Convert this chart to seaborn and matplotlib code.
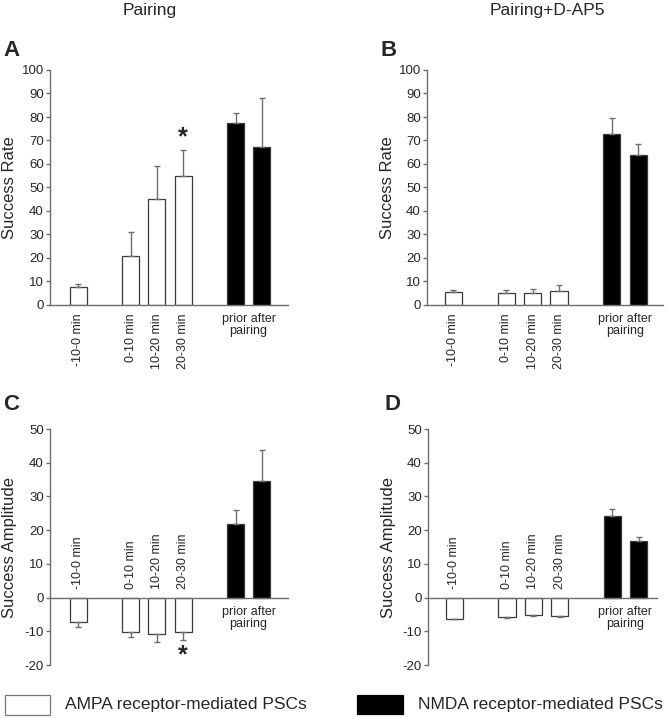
import matplotlib
matplotlib.use("Agg")
import matplotlib.pyplot as plt
from matplotlib.patches import Rectangle
import seaborn as sns
import pandas as pd
import numpy as np

# ---------------- data ----------------
categories = ['-10-0 min', '0-10 min', '10-20 min', '20-30 min', 'prior', 'after']
receptor = ['AMPA', 'AMPA', 'AMPA', 'AMPA', 'NMDA', 'NMDA']
group_label = 'prior after\npairing'

rate_pairing = [7.8, 21.0, 45.1, 55.0, 77.6, 67.4]
rate_pairing_err = [1.0, 10.2, 14.2, 11.0, 4.1, 20.5]

rate_dap5 = [5.7, 5.1, 5.1, 6.0, 72.8, 63.7]
rate_dap5_err = [0.8, 1.4, 1.9, 2.3, 6.6, 4.6]

amp_pairing = [-7.1, -10.2, -10.9, -10.2, 21.7, 34.6]
amp_pairing_err = [1.5, 1.5, 2.4, 2.3, 4.4, 9.2]

amp_dap5 = [-6.3, -5.7, -5.1, -5.4, 24.2, 16.7]
amp_dap5_err = [0.2, 0.4, 0.3, 0.4, 2.1, 1.3]

rate_ticks = [0, 10, 20, 30, 40, 50, 60, 70, 80, 90, 100]
amp_ticks = [-20, -10, 0, 10, 20, 30, 40, 50]

legend_labels = ['AMPA receptor-mediated PSCs', 'NMDA receptor-mediated PSCs']
column_titles = ['Pairing', 'Pairing+D-AP5']
panel_letters = ['A', 'B', 'C', 'D']

# ---------------- layout / style ----------------
slot = [0, 2, 3, 4, 6, 7]          # bar slots along the x axis
W, H = 670, 719
sns.set_style('ticks')
plt.rcParams['font.family'] = ['Liberation Sans', 'DejaVu Sans']
GRAY = '#6e6e6e'
EDGE = '#3a3a3a'
palette = {'AMPA': 'white', 'NMDA': 'black'}

fig = plt.figure(figsize=(W / 100, H / 100), dpi=100)


def rect(left, right, top, bottom):
    return [left / W, 1 - bottom / H, (right - left) / W, (bottom - top) / H]


def draw(ax, vals, errs, ylim, yticks, ylabel, xlim, below):
    df = pd.DataFrame({'slot': slot, 'value': vals, 'receptor': receptor})
    sns.barplot(data=df, x='slot', y='value', hue='receptor', palette=palette,
                native_scale=True, width=0.65, errorbar=None, legend=False,
                edgecolor=EDGE, linewidth=0.9, ax=ax)
    v = np.array(vals)
    e = np.array(errs)
    lower = np.where(v < 0, e, 0)
    upper = np.where(v >= 0, e, 0)
    ax.errorbar(slot, v, yerr=[lower, upper], fmt='none', ecolor=GRAY,
                elinewidth=1.0, capsize=2.2, capthick=1.0, zorder=3)
    ax.set_xlim(*xlim)
    ax.set_ylim(*ylim)
    ax.set_yticks(yticks)
    ax.set_yticklabels([str(t) for t in yticks], fontsize=9.5)
    ax.set_ylabel(ylabel, fontsize=12)
    ax.set_xlabel('')
    for s in ['top', 'right']:
        ax.spines[s].set_visible(False)
    for s in ['left', 'bottom']:
        ax.spines[s].set_color(GRAY)
        ax.spines[s].set_linewidth(1.0)
    ax.tick_params(axis='y', direction='out', length=3, width=1.0,
                   color=GRAY, pad=1.5)
    ax.tick_params(axis='x', length=0)
    ax.set_facecolor('none')
    if below:
        ax.set_xticks([slot[0], slot[1], slot[2], slot[3], (slot[4] + slot[5]) / 2])
        labs = ax.set_xticklabels(categories[:4] + [group_label], fontsize=9)
        for lb in labs[:4]:
            lb.set_rotation(90)
        labs[4].set_linespacing(1.0)
        ax.tick_params(axis='x', pad=6)
    else:
        ax.spines['bottom'].set_position(('data', 0))
        ax.set_xticks([])
        for i in range(4):
            ax.annotate(categories[i], xy=(slot[i], 0), xytext=(0, 6),
                        textcoords='offset points', rotation=90,
                        ha='center', va='bottom', fontsize=9)
        ax.annotate(group_label, xy=((slot[4] + slot[5]) / 2, 0), xytext=(0, -6),
                    textcoords='offset points', ha='center', va='top',
                    fontsize=9, linespacing=1.0)


axA = fig.add_axes(rect(50, 288, 70, 305))
axB = fig.add_axes(rect(427, 663, 70, 305))
axC = fig.add_axes(rect(50, 288, 429, 665))
axD = fig.add_axes(rect(428, 657, 429, 665))

draw(axA, rate_pairing, rate_pairing_err, (0, 100), rate_ticks, 'Success Rate', (-1.07, 8.0), True)
draw(axB, rate_dap5, rate_dap5_err, (0, 100), rate_ticks, 'Success Rate', (-1.0, 7.94), True)
draw(axC, amp_pairing, amp_pairing_err, (-20, 50), amp_ticks, 'Success Amplitude', (-1.07, 8.0), False)
draw(axD, amp_dap5, amp_dap5_err, (-20, 50), amp_ticks, 'Success Amplitude', (-1.0, 7.7), False)

axA.yaxis.set_label_coords(-0.14, 0.5)
axB.yaxis.set_label_coords(-0.136, 0.5)
axC.yaxis.set_label_coords(-0.14, 0.5)
axD.yaxis.set_label_coords(-0.14, 0.5)

# significance stars
axA.text(slot[3], 71.5, '*', ha='center', va='center', fontsize=18, fontweight='bold')
axC.text(slot[3], -17.2, '*', ha='center', va='center', fontsize=18, fontweight='bold')

# column titles and panel letters
fig.text(150 / W, 1 - 11 / H, column_titles[0], ha='center', va='center', fontsize=12.5)
fig.text(547 / W, 1 - 11 / H, column_titles[1], ha='center', va='center', fontsize=12.5)
for letter, (px, py) in zip(panel_letters, [(3, 50), (380, 50), (3, 404), (385, 404)]):
    fig.text(px / W, 1 - py / H, letter, ha='left', va='center', fontsize=16,
             fontweight='bold')

# legend
fig.add_artist(Rectangle((5 / W, 1 - 715 / H), 45 / W, 20 / H, transform=fig.transFigure,
                         facecolor='white', edgecolor='#777777', lw=0.9))
fig.add_artist(Rectangle((357 / W, 1 - 714 / H), 46 / W, 19 / H, transform=fig.transFigure,
                         facecolor='black', edgecolor='black', lw=0.9))
fig.text(65 / W, 1 - 705 / H, legend_labels[0], ha='left', va='center', fontsize=12.5)
fig.text(418 / W, 1 - 705 / H, legend_labels[1], ha='left', va='center', fontsize=12.5)

fig.savefig('out.png', dpi=100)
